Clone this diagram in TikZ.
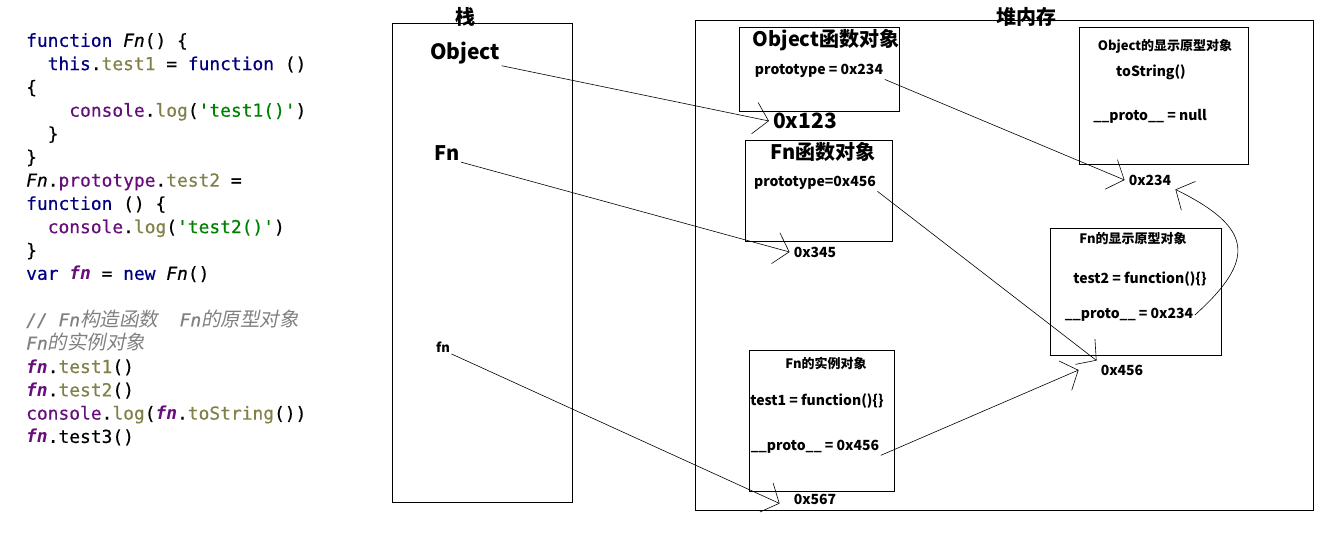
\documentclass[tikz,border=0pt]{standalone}
\usepackage{fontspec}
\usepackage{tikz}
\usetikzlibrary{arrows.meta}
\setmonofont{DejaVu Sans Mono}[UprightFeatures={FakeBold=0.5},ItalicFeatures={FakeBold=0.5}]
\newfontfamily\lblfont{Noto Sans CJK SC}
\newfontfamily\cjkit{Noto Sans CJK SC}[FakeSlant=0.2,Scale=1.09]
\definecolor{jskw}{RGB}{0,0,128}
\definecolor{jsfld}{RGB}{128,128,72}
\definecolor{jsobj}{RGB}{102,14,122}
\definecolor{jsstr}{RGB}{0,128,0}
\definecolor{jscmt}{RGB}{128,128,128}
\newcommand\jkw[1]{\textcolor{jskw}{#1}}
\newcommand\jfld[1]{\textcolor{jsfld}{#1}}
\newcommand\jobj[1]{\textcolor{jsobj}{#1}}
\newcommand\jstr[1]{\textcolor{jsstr}{#1}}
\newcommand\jit[1]{\textit{#1}}
\newcommand\jvar[1]{\textcolor{jsobj}{\textbf{\textit{#1}}}}
\newcommand\fsz[1]{\fontsize{#1}{#1}\selectfont}
\tikzset{
  box/.style={draw, line width=0.9pt, inner sep=0pt, anchor=north west},
  code/.style={anchor=north west, align=left, inner sep=0pt,
    font=\ttfamily\fontsize{17.9}{23.3}\selectfont},
  title/.style={inner sep=1.5pt, font=\lblfont\bfseries\fsz{20}},
  head/.style={inner sep=1.5pt, font=\lblfont\bfseries\fsz{13}},
  field/.style={inner sep=1.5pt, font=\lblfont\bfseries\fsz{14}},
  addr/.style={inner sep=4pt, font=\lblfont\bfseries\fsz{14}},
  ptr/.style={-{Straight Barb[length=14pt,width=32pt]}, line width=0.6pt}
}
\begin{document}
\begin{tikzpicture}[x=1pt,y=-1pt]
\useasboundingbox (0,0) rectangle (1332,553);
% source code
\node[code] (src) at (26,33) {%
\jkw{function} \jit{Fn}() \{\\
\phantom{xx}\jkw{this}.\jfld{test1} = \jkw{function} ()\\
\{\\
\phantom{xxxx}\jobj{console}.\jfld{log}(\jstr{'test1()'})\\
\phantom{xx}\}\\
\}\\
\jit{Fn}.\jobj{prototype}.\jfld{test2} =\\
\jkw{function} () \{\\
\phantom{xx}\jobj{console}.\jfld{log}(\jstr{'test2()'})\\
\}\\
\jkw{var} \jvar{fn} = \jkw{new} \jit{Fn}()\\
~\\
{\color{jscmt}\itshape // Fn{\cjkit 构造函数}~~Fn{\cjkit 的原型对象}}\\
{\color{jscmt}\itshape Fn{\cjkit 的实例对象}}\\
\jvar{fn}.\jfld{test1}()\\
\jvar{fn}.\jfld{test2}()\\
\jobj{console}.\jfld{log}(\jvar{fn}.\jfld{toString}())\\
\jvar{fn}.test3()};
% stack
\node[box, minimum width=180, minimum height=479] (stack) at (392,23) {};
\node[title] (stackT) at (465,17) {栈};
\node[title, font=\lblfont\bfseries\fsz{21}] (stObj) at (465,53) {Object};
\node[title] (stFn) at (447,153) {Fn};
\node[head] (stfn) at (443,347) {fn};
% heap
\node[box, minimum width=618, minimum height=490] (heap) at (695,20) {};
\node[title] (heapT) at (1026,17) {堆内存};
\node[box, minimum width=160, minimum height=84] (objFn) at (739,27) {};
\node[title] (objFnT) at (826,40) {Object函数对象};
\node[field] (objFnP) at (819,71) {prototype = 0x234};
\node[addr, font=\lblfont\bfseries\fsz{21}] (a123) at (805,121) {0x123};
\node[box, minimum width=147, minimum height=101] (fnFn) at (745,140) {};
\node[title] (fnFnT) at (823,152) {Fn函数对象};
\node[field] (fnFnP) at (815,183) {prototype=0x456};
\node[addr] (a345) at (815,252) {0x345};
\node[box, minimum width=169, minimum height=137] (objPr) at (1079,27) {};
\node[head] (objPrT) at (1165,46) {Object的显示原型对象};
\node[field] (objPrS) at (1151,72) {toString()};
\node[field] (objPrP) at (1150,116) {\_\_proto\_\_ = null};
\node[addr] (a234) at (1150,180) {0x234};
\node[box, minimum width=171, minimum height=127] (fnPr) at (1050,228) {};
\node[head] (fnPrT) at (1133,239) {Fn的显示原型对象};
\node[field] (fnPrF) at (1140,279) {test2 = function()\{\}};
\node[field] (fnPrP) at (1129,315) {\_\_proto\_\_ = 0x234};
\node[addr] (a456) at (1122,370) {0x456};
\node[box, minimum width=145, minimum height=141] (fnIn) at (749,350) {};
\node[head] (fnInT) at (826,363) {Fn的实例对象};
\node[field] (fnInF) at (817,401) {test1 = function()\{\}};
\node[field] (fnInP) at (815,447) {\_\_proto\_\_ = 0x456};
\node[addr] (a567) at (815,499) {0x567};
% references
\draw[ptr] (stObj.south east) -- (a123.west);
\draw[ptr] (stFn.south east) -- (a345.west);
\draw[ptr] (stfn.south east) -- ([xshift=-10,yshift=5]a567.south west);
\draw[ptr] (objFnP.south east) -- (a234.west);
\draw[ptr] (fnFnP.south east) -- (a456.north west);
\draw[ptr] (fnInP.south east) -- ([xshift=-18]a456.west);
\draw[ptr] (fnPrP.east) .. controls (1256,260) and (1254,228) .. (a234.south east);
\end{tikzpicture}
\end{document}
